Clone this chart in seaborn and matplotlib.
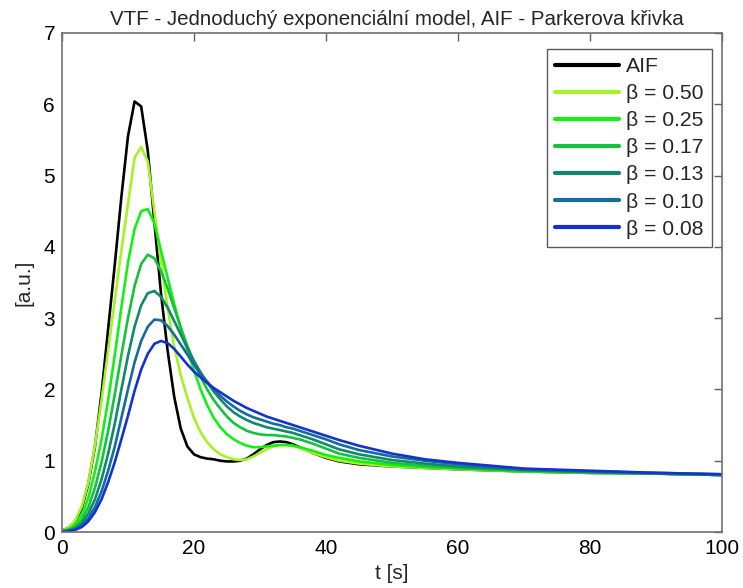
import pandas as pd
import matplotlib
matplotlib.use("Agg")
import matplotlib.pyplot as plt
import seaborn as sns

# time axis [s]
t = list(range(0, 37)) + [38, 40, 42, 45, 50, 55, 60, 70, 80, 90, 100]

aif = [0.02, 0.06, 0.15, 0.33, 0.68, 1.2, 1.95, 2.85, 3.75, 4.7, 5.55, 6.04, 5.97, 5.35, 4.35, 3.35, 2.55,
       1.9, 1.45, 1.2, 1.09, 1.05, 1.03, 1.02, 1.0, 0.99, 0.99, 1.0, 1.03, 1.09, 1.16, 1.22, 1.26, 1.27,
       1.26, 1.23, 1.19, 1.11, 1.04, 0.99, 0.95, 0.92, 0.9, 0.88, 0.85, 0.83, 0.82, 0.8]
b050 = [0.02, 0.06, 0.16, 0.36, 0.7, 1.22, 1.85, 2.55, 3.25, 3.95, 4.6, 5.25, 5.4, 5.2, 4.5, 3.8, 3.15,
        2.6, 2.2, 1.88, 1.6, 1.4, 1.26, 1.16, 1.09, 1.05, 1.02, 1.01, 1.02, 1.06, 1.11, 1.16, 1.2, 1.22,
        1.22, 1.21, 1.18, 1.11, 1.05, 1.0, 0.96, 0.92, 0.9, 0.88, 0.85, 0.83, 0.82, 0.8]
b025 = [0.02, 0.04, 0.1, 0.24, 0.48, 0.85, 1.3, 1.85, 2.48, 3.15, 3.78, 4.25, 4.5, 4.53, 4.33, 3.95, 3.57,
        3.2, 2.86, 2.55, 2.27, 2.0, 1.78, 1.6, 1.47, 1.37, 1.3, 1.25, 1.21, 1.19, 1.19, 1.2, 1.21, 1.22,
        1.22, 1.21, 1.19, 1.14, 1.08, 1.04, 0.99, 0.94, 0.91, 0.89, 0.85, 0.83, 0.82, 0.8]
b017 = [0.01, 0.03, 0.07, 0.17, 0.35, 0.62, 0.98, 1.42, 1.93, 2.48, 3.0, 3.45, 3.76, 3.89, 3.84, 3.66, 3.42,
        3.14, 2.87, 2.61, 2.38, 2.18, 2.0, 1.85, 1.73, 1.62, 1.53, 1.47, 1.42, 1.39, 1.37, 1.36, 1.36, 1.35,
        1.34, 1.32, 1.3, 1.24, 1.17, 1.1, 1.04, 0.97, 0.93, 0.9, 0.86, 0.84, 0.82, 0.8]
b013 = [0.01, 0.02, 0.05, 0.12, 0.26, 0.46, 0.74, 1.1, 1.52, 2.0, 2.47, 2.88, 3.18, 3.35, 3.38, 3.3, 3.15,
        2.96, 2.77, 2.58, 2.4, 2.24, 2.1, 1.97, 1.86, 1.76, 1.68, 1.62, 1.57, 1.53, 1.5, 1.47, 1.45, 1.43,
        1.41, 1.39, 1.36, 1.3, 1.23, 1.16, 1.09, 1.01, 0.96, 0.92, 0.87, 0.84, 0.82, 0.8]
b010 = [0.0, 0.01, 0.04, 0.09, 0.19, 0.35, 0.57, 0.86, 1.2, 1.6, 2.0, 2.38, 2.68, 2.88, 2.98, 2.97, 2.89,
        2.77, 2.63, 2.49, 2.35, 2.22, 2.11, 2.0, 1.91, 1.83, 1.76, 1.7, 1.65, 1.61, 1.58, 1.55, 1.52, 1.5,
        1.47, 1.45, 1.42, 1.36, 1.3, 1.23, 1.15, 1.06, 1.0, 0.95, 0.88, 0.85, 0.83, 0.81]
b008 = [0.0, 0.01, 0.03, 0.07, 0.15, 0.28, 0.46, 0.7, 0.98, 1.3, 1.63, 1.98, 2.28, 2.5, 2.64, 2.68, 2.65,
        2.57, 2.46, 2.35, 2.25, 2.17, 2.09, 2.02, 1.96, 1.9, 1.84, 1.79, 1.74, 1.7, 1.66, 1.62, 1.59, 1.56,
        1.53, 1.5, 1.47, 1.41, 1.35, 1.29, 1.21, 1.1, 1.02, 0.97, 0.89, 0.86, 0.83, 0.81]

labels = ["AIF", "β = 0.50", "β = 0.25", "β = 0.17", "β = 0.13", "β = 0.10", "β = 0.08"]
series = [aif, b050, b025, b017, b013, b010, b008]
colors = ["#000000", "#a6f226", "#14f014", "#14c23c", "#14886c", "#146c9c", "#1432d2"]

rows = []
for lab, vals in zip(labels, series):
    for ti, v in zip(t, vals):
        rows.append({"t": ti, "value": v, "curve": lab})
df = pd.DataFrame(rows)

sns.set_style("white")
plt.rcParams["font.family"] = ["Liberation Sans", "DejaVu Sans"]

fig = plt.figure(figsize=(7.43, 5.88), dpi=100)
ax = fig.add_axes([0.0834, 0.0952, 0.8883, 0.8487])

sns.lineplot(data=df, x="t", y="value", hue="curve", hue_order=labels,
             palette=dict(zip(labels, colors)), linewidth=1.9, ax=ax)

ax.set_xlim(0, 100)
ax.set_ylim(0, 7)
ax.set_xticks([0, 20, 40, 60, 80, 100])
ax.set_yticks(range(0, 8))
ax.tick_params(direction="in", length=6, width=1, colors="#606060", labelcolor="black",
               labelsize=15, top=True, right=True, pad=5)
for s in ax.spines.values():
    s.set_color("#707070")
    s.set_linewidth(1.2)

ax.set_xlabel("t [s]", fontsize=15, labelpad=4)
ax.set_ylabel("[a.u.]", fontsize=15, labelpad=7)
ax.set_title("VTF - Jednoduchý exponenciální model, AIF - Parkerova křivka", fontsize=14.8, pad=6, x=0.508)

leg = ax.legend(loc="upper right", fontsize=15.2, handlelength=3.0, labelspacing=0.38,
                borderpad=0.4, handletextpad=0.35, borderaxespad=0, frameon=True, fancybox=False,
                bbox_to_anchor=(0.985, 0.968))
leg.get_frame().set_edgecolor("#303030")
leg.get_frame().set_linewidth(1.0)
for line in leg.get_lines():
    line.set_linewidth(3)

fig.savefig("out.png", dpi=100)
